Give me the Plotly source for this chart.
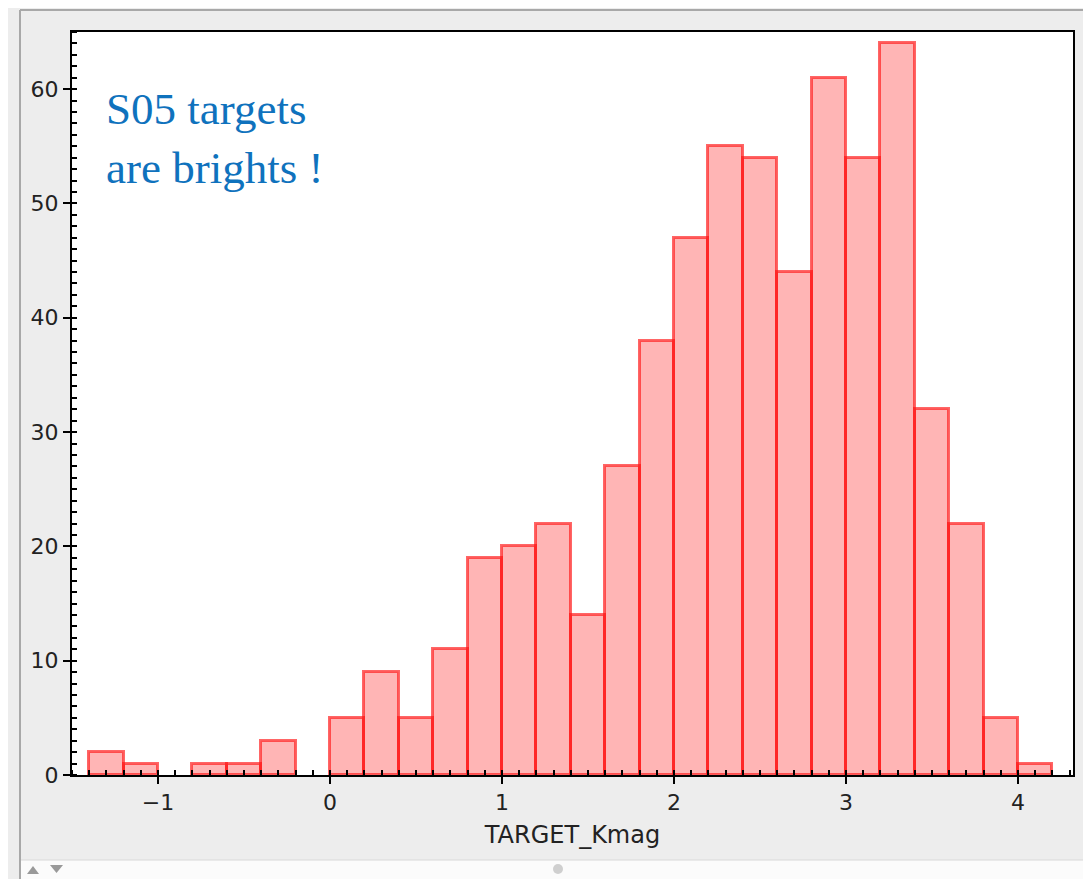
import plotly.graph_objects as go

# Histogram data (bin width 0.2)
bin_left_edges = [-1.4, -1.2, -1.0, -0.8, -0.6, -0.4, -0.2, 0.0, 0.2, 0.4, 0.6, 0.8, 1.0, 1.2,
                  1.4, 1.6, 1.8, 2.0, 2.2, 2.4, 2.6, 2.8, 3.0, 3.2, 3.4, 3.6, 3.8, 4.0]
counts = [2, 1, 0, 1, 1, 3, 0, 5, 9, 5, 11, 19, 20, 22,
          14, 27, 38, 47, 55, 54, 44, 61, 54, 64, 32, 22, 5, 1]
bin_width = 0.2
x_title = "TARGET_Kmag"
note_lines = ["S05 targets", "are brights !"]

xs = [e + bin_width / 2 for e, c in zip(bin_left_edges, counts) if c > 0]
ys = [c for c in counts if c > 0]

fig = go.Figure()
fig.add_trace(go.Bar(
    x=xs, y=ys, width=bin_width,
    marker=dict(color="rgba(255,0,0,0.29)", line=dict(color="rgba(255,20,20,0.65)", width=3)),
    hoverinfo="x+y",
))

# page offset from default body margin
OFF = 8
PW, PH = 1091, 879
W, H = PW - OFF, PH - OFF
# plot area in page pixel coordinates
PL, PR, PT, PB = 72, 1073, 32, 775
L, R, T, B = PL - OFF, PW - PR, PT - OFF, PH - PB
pw, ph = PR - PL, PB - PT

def px(xp):
    return (xp - PL) / pw

def py(yp):
    return 1 - (yp - PT) / ph

shapes = [
    dict(type="line", xref="paper", yref="paper", x0=px(20), x1=px(20), y0=py(900), y1=py(10),
         line=dict(color="#a8a8a8", width=2)),
    dict(type="line", xref="paper", yref="paper", x0=px(20), x1=px(1100), y0=py(10), y1=py(10),
         line=dict(color="#a8a8a8", width=2)),
    dict(type="rect", xref="paper", yref="paper", x0=px(21), x1=px(1100), y0=py(900), y1=py(860),
         fillcolor="#fbfbfb", line=dict(width=0)),
    dict(type="line", xref="paper", yref="paper", x0=px(21), x1=px(1100), y0=py(860), y1=py(860),
         line=dict(color="#d8d8d8", width=1)),
    dict(type="circle", xref="paper", yref="paper", x0=px(553), x1=px(563), y0=py(874), y1=py(864),
         fillcolor="#cfcfcf", line=dict(width=0)),
    dict(type="path", xref="paper", yref="paper",
         path=f"M {px(27)} {py(874)} L {px(39)} {py(874)} L {px(33)} {py(866)} Z",
         fillcolor="#999999", line=dict(width=0)),
    dict(type="path", xref="paper", yref="paper",
         path=f"M {px(50)} {py(865)} L {px(63)} {py(865)} L {px(56.5)} {py(873)} Z",
         fillcolor="#999999", line=dict(width=0)),
]

fig.update_layout(
    width=W, height=H,
    margin=dict(l=L, r=R, t=T, b=B),
    paper_bgcolor="#ededed",
    plot_bgcolor="white",
    showlegend=False,
    bargap=0,
    shapes=shapes,
    font=dict(family="DejaVu Sans", color="#222222"),
    annotations=[
        dict(xref="paper", yref="paper", x=px(104), y=py(82), xanchor="left", yanchor="top",
             text="<br>".join(note_lines), showarrow=False, align="left",
             font=dict(family="Liberation Serif", size=45, color="#0f72bd")),
    ],
)

fig.update_xaxes(
    range=[-1.5, 4.32],
    dtick=1, tick0=0,
    ticks="outside", ticklen=7, tickwidth=1.5, tickcolor="black",
    minor=dict(ticks="inside", dtick=0.1, tick0=0, ticklen=5, tickwidth=1.5, tickcolor="black"),
    showline=True, linecolor="black", linewidth=2, mirror=True,
    showgrid=False, zeroline=False,
    tickfont=dict(size=22, color="#222222"),
    title=dict(text=x_title, font=dict(size=24, color="#222222"), standoff=12),
)
fig.update_yaxes(
    range=[0, 65],
    dtick=10, tick0=0,
    ticks="outside", ticklen=7, tickwidth=1.5, tickcolor="black",
    minor=dict(ticks="inside", dtick=1, tick0=0, ticklen=5, tickwidth=1.5, tickcolor="black"),
    showline=True, linecolor="black", linewidth=2, mirror=True,
    showgrid=False, zeroline=False,
    tickfont=dict(size=22, color="#222222"),
)

fig.write_html("out.html")
